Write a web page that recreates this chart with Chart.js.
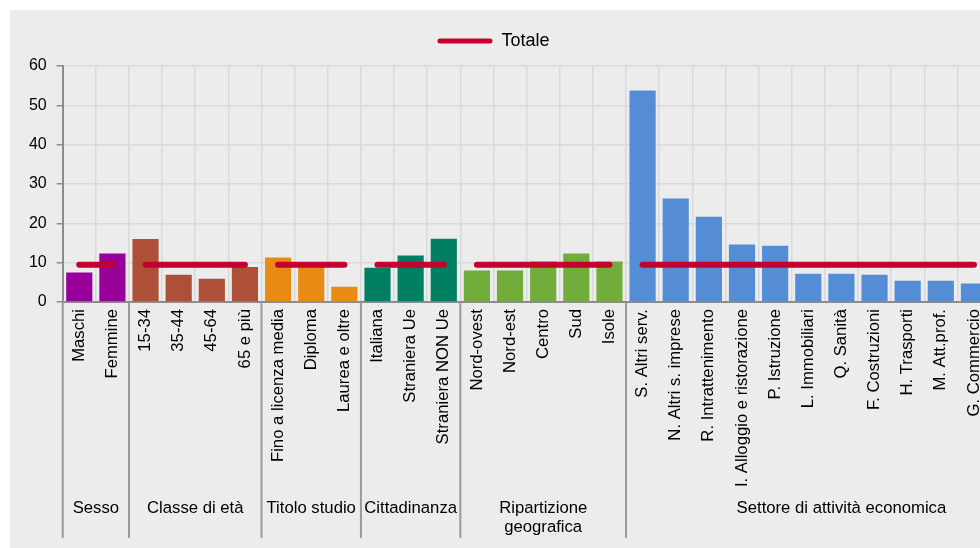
<!DOCTYPE html>
<html>
<head>
<meta charset="utf-8">
<script src="https://cdn.jsdelivr.net/npm/chart.js@4"></script>
<style>
  html, body { margin: 0; padding: 0; background: #fff; overflow: hidden; }
  #wrap { position: absolute; left: 10px; top: 10px; width: 991px; height: 538px; background: #ececec; }
</style>
</head>
<body>
<div id="wrap"><canvas id="myChart" width="991" height="538"></canvas></div>
<script>
"use strict";

const categories = ['Maschi', 'Femmine', '15-34', '35-44', '45-64', '65 e più',
    'Fino a licenza media', 'Diploma', 'Laurea e oltre',
    'Italiana', 'Straniera Ue', 'Straniera NON Ue',
    'Nord-ovest', 'Nord-est', 'Centro', 'Sud', 'Isole',
    'S. Altri serv.', 'N. Altri s. imprese', 'R. Intrattenimento', 'I. Alloggio e ristorazione',
    'P. Istruzione', 'L. Immobiliari', 'Q. Sanità', 'F. Costruzioni', 'H. Trasporti',
    'M. Att.prof.', 'G. Commercio'];

const values = [7.5, 12.3, 16.0, 6.9, 5.9, 8.9, 11.3, 9.2, 3.9, 8.7, 11.8, 16.1,
    8.0, 8.0, 10.3, 12.3, 10.3, 53.8, 26.3, 21.7, 14.6, 14.3, 7.2, 7.2, 6.9, 5.4, 5.4, 4.7];

const totale = [9.5, 9.5, 9.5, 9.5, 9.5, 9.5, 9.5, 9.5, 9.5, 9.5, 9.5, 9.5, 9.5, 9.5,
    9.5, 9.5, 9.5, 9.5, 9.5, 9.5, 9.5, 9.5, 9.5, 9.5, 9.5, 9.5, 9.5, 9.5];

const groupNames = ['Sesso', 'Classe di età', 'Titolo studio', 'Cittadinanza',
    'Ripartizione\ngeografica', 'Settore di attività economica'];
// last group goes on past the right edge of the picture
const groupSpan = [2, 4, 3, 3, 5, 13];
const groupColors = ['#990099', '#ad5037', '#e88b14', '#007f63', '#70ad3b', '#548dd6'];

const RED = '#c4002f';
const FONT = '"Liberation Sans", Arial, sans-serif';

// group index of every category
const groupOf = [];
groupSpan.forEach((n, g) => { for (let i = 0; i < n; i++) groupOf.push(g); });

const groupsPlugin = {
    id: 'groups',
    afterDraw(chart) {
        const {ctx, chartArea} = chart;
        const x = chart.scales.x;
        const half = (x.getPixelForValue(1) - x.getPixelForValue(0)) / 2;
        ctx.save();
        ctx.strokeStyle = '#999';
        ctx.lineWidth = 2;
        ctx.fillStyle = '#000';
        ctx.font = '16.7px ' + FONT;
        ctx.textAlign = 'center';
        ctx.textBaseline = 'middle';
        let start = 0;
        groupNames.forEach((name, g) => {
            const n = groupSpan[g];
            const left = x.getPixelForValue(start) - half;
            const mid = (x.getPixelForValue(start) + x.getPixelForValue(start + n - 1)) / 2;
            ctx.beginPath();
            ctx.moveTo(left, chartArea.bottom);
            ctx.lineTo(left, 528);
            ctx.stroke();
            name.split('\n').forEach((t, i) => ctx.fillText(t, mid, 498 + i * 19));
            start += n;
        });
        ctx.restore();
    }
};

// a bit more room under the legend, and move it left like the original
const legendTweak = {
    id: 'legendTweak',
    beforeInit(chart) {
        const fit = chart.legend.fit;
        chart.legend.fit = function () {
            fit.bind(chart.legend)();
            this.height += 6;
        };
    },
    afterLayout(chart) {
        chart.legend.left -= 12;
        chart.legend.right -= 12;
    }
};

const ctx = document.getElementById('myChart').getContext('2d');
new Chart(ctx, {
    type: 'bar',
    data: {
        labels: categories,
        datasets: [{
                type: 'line',
                label: 'Totale',
                data: totale,
                borderColor: RED,
                backgroundColor: RED,
                borderWidth: 6,
                borderCapStyle: 'round',
                pointRadius: 0,
                order: 0,
                segment: {
                    borderColor: c => groupOf[c.p0DataIndex] === groupOf[c.p1DataIndex] ? RED : 'transparent'
                }
            },
            {
                label: 'valori',
                data: values,
                backgroundColor: values.map((v, i) => groupColors[groupOf[i]]),
                barPercentage: 0.79,
                categoryPercentage: 1,
                order: 1
            }
        ]
    },
    options: {
        responsive: false,
        animation: false,
        layout: { padding: { top: 12, left: 0, right: 0, bottom: 0 } },
        plugins: {
            tooltip: { enabled: false },
            legend: {
                labels: {
                    font: { family: FONT, size: 18 },
                    color: '#000',
                    boxWidth: 55,
                    boxHeight: 5,
                    generateLabels: () => [{
                        text: 'Totale',
                        fillStyle: RED,
                        strokeStyle: RED,
                        lineWidth: 0,
                        borderRadius: 2.5,
                        fontColor: '#000',
                        datasetIndex: 0
                    }]
                }
            }
        },
        scales: {
            x: {
                afterFit(scale) { scale.height = 246; },
                grid: { color: '#d9d9d9', lineWidth: 1.5, drawTicks: false },
                border: { color: '#8c8c8c', width: 2 },
                ticks: {
                    autoSkip: false,
                    maxRotation: 90,
                    minRotation: 90,
                    padding: 7,
                    color: '#000',
                    font: { family: FONT, size: 16.7 }
                }
            },
            y: {
                min: 0,
                max: 60,
                afterFit(scale) { scale.width = 52.7; },
                grid: { color: '#d9d9d9', lineWidth: 1.5, tickColor: '#8c8c8c', tickLength: 6 },
                border: { color: '#8c8c8c', width: 2 },
                ticks: {
                    stepSize: 10,
                    padding: 10,
                    color: '#000',
                    font: { family: FONT, size: 16 }
                }
            }
        }
    },
    plugins: [groupsPlugin, legendTweak]
});
</script>
</body>
</html>
